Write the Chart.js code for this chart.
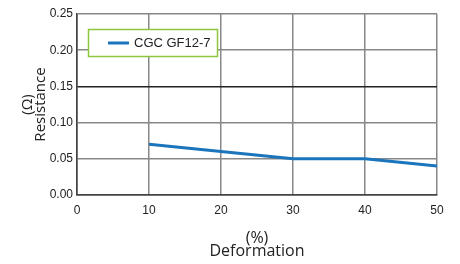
<!DOCTYPE html>
<html><head><meta charset="utf-8">
<script src="https://cdn.jsdelivr.net/npm/chart.js@4/dist/chart.umd.min.js"></script>
<style>html,body{margin:0;padding:0;background:#fff}#wrap{width:460px;height:264px}</style>
</head><body><div id="wrap"><canvas id="c" width="460" height="264"></canvas></div>
<script>
const seriesLabel = 'CGC GF12-7';
const xValues = [10, 20, 30, 40, 50];
const resistance = [0.07, 0.06, 0.05, 0.05, 0.04];
const xTicks = [0, 10, 20, 30, 40, 50];
const yTicks = [0, 0.05, 0.10, 0.15, 0.20, 0.25];
const xTitle = ['(%)', 'Deformation'];
const yTitle = ['(Ω)', 'Resistance'];

const tickFont = {family: "'Liberation Sans Narrow','Arial Narrow','Liberation Sans',sans-serif", size: 12};

const legendBox = {
  id: 'legendBox',
  afterDatasetsDraw(chart) {
    const ctx = chart.ctx;
    const x = 88.5, y = 29.5, w = 129, h = 27;
    ctx.save();
    ctx.fillStyle = '#fff';
    ctx.fillRect(x, y, w, h);
    ctx.strokeStyle = '#8dc63f';
    ctx.lineWidth = 1.5;
    ctx.strokeRect(x, y, w, h);
    ctx.strokeStyle = '#1a75bc';
    ctx.lineWidth = 3;
    ctx.beginPath(); ctx.moveTo(108, 43); ctx.lineTo(129, 43); ctx.stroke();
    ctx.fillStyle = '#222';
    ctx.font = "13px 'Liberation Sans Narrow','Arial Narrow',sans-serif";
    ctx.textBaseline = 'middle';
    ctx.fillText(chart.data.datasets[0].label, 134, 43.5);
    ctx.restore();
  }
};

new Chart(document.getElementById('c'), {
  type: 'line',
  data: {
    datasets: [{
      label: seriesLabel,
      data: xValues.map((v, i) => ({x: v, y: resistance[i]})),
      borderColor: '#1a75bc',
      borderWidth: 3,
      pointRadius: 0,
      tension: 0,
      fill: false
    }]
  },
  options: {
    responsive: false,
    animation: false,
    layout: {padding: {top: 14, right: 23, left: 0, bottom: 0}},
    plugins: {legend: {display: false}, tooltip: {enabled: false}},
    scales: {
      x: {
        type: 'linear', min: 0, max: 50,
        afterBuildTicks(s) { s.ticks = xTicks.map(v => ({value: v})); },
        afterFit(s) { s.height = 69; },
        grid: {color: ctx => ctx.tick && ctx.tick.value === 0 ? '#444' : '#888', lineWidth: 1.5, drawTicks: false},
        border: {color: '#444', width: 1.5},
        ticks: {color: '#222', font: tickFont, padding: 8, maxRotation: 0},
        title: {display: true, text: xTitle, color: '#222',
          font: {family: "'Open Sans','Noto Sans',sans-serif", size: 16, lineHeight: 0.85},
          padding: {top: 0, bottom: 5.5}}
      },
      y: {
        type: 'linear', min: 0, max: 0.25,
        afterBuildTicks(s) { s.ticks = yTicks.map(v => ({value: v})); },
        afterFit(s) { s.width = 77; },
        grid: {color: ctx => {
          if (!ctx.tick) return '#888';
          const v = ctx.tick.value;
          if (Math.abs(v - 0.15) < 1e-6) return '#222';
          if (v === 0) return '#444';
          return '#888';
        }, lineWidth: 1.5, drawTicks: false},
        border: {color: '#444', width: 1.5},
        ticks: {color: '#222', font: tickFont, padding: 4, callback: v => v.toFixed(2)},
        title: {display: true, text: yTitle, color: '#222',
          font: {family: "'Open Sans','Noto Sans',sans-serif", size: 15, lineHeight: 0.85},
          padding: {top: 21.5, bottom: 0}}
      }
    }
  },
  plugins: [legendBox]
});
</script></body></html>
